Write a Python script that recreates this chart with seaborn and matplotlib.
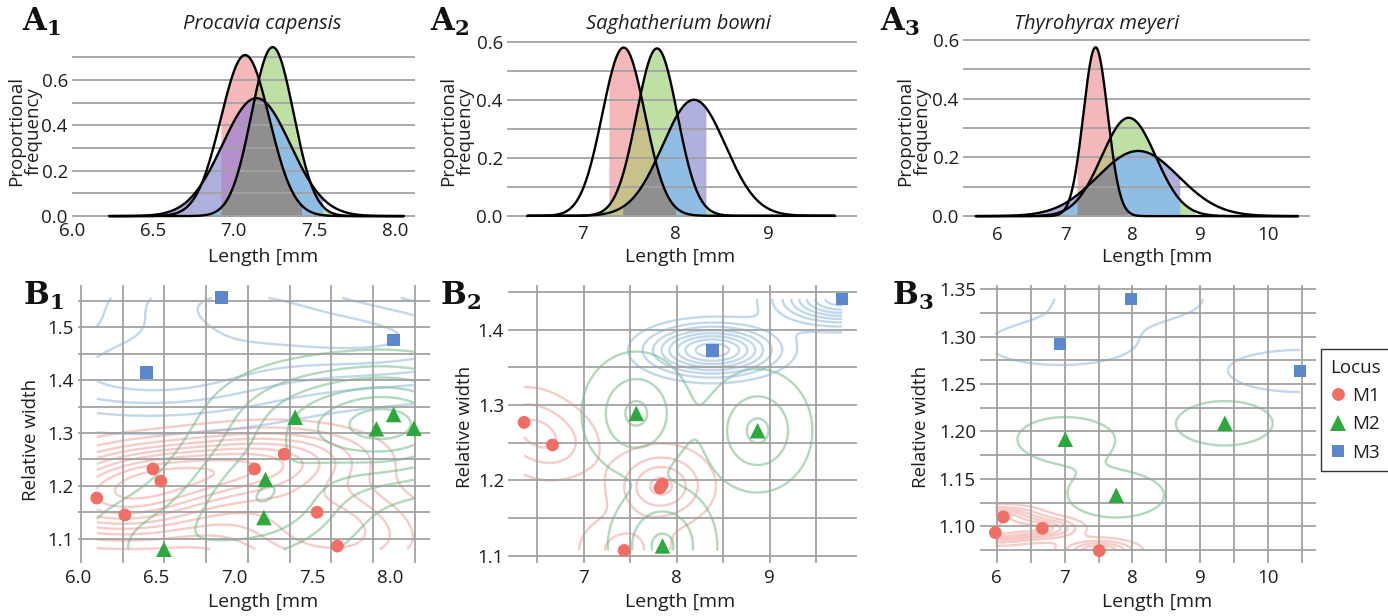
import numpy as np
import pandas as pd
import matplotlib
matplotlib.use("Agg")
import matplotlib.pyplot as plt
from matplotlib.ticker import FormatStrFormatter
import seaborn as sns

# ---------------------------------------------------------------- data
LOCI = ["M1", "M2", "M3"]

# Fitted normal curves of tooth length (mean, SD, peak height) per locus
a1_mean = [7.07, 7.24, 7.14]
a1_sd = [0.15, 0.13, 0.21]
a1_peak = [0.71, 0.745, 0.52]
a1_fill_lo = [6.92, 6.87, 6.55]
a1_fill_hi = [7.42, 7.60, 7.55]
a1_span = [6.23, 8.05]

a2_mean = [7.44, 7.80, 8.20]
a2_sd = [0.23, 0.22, 0.34]
a2_peak = [0.58, 0.577, 0.40]
a2_fill_lo = [7.28, 7.11, 7.43]
a2_fill_hi = [8.00, 8.45, 8.33]
a2_span = [6.40, 9.72]

a3_mean = [7.45, 7.94, 8.08]
a3_sd = [0.18, 0.40, 0.60]
a3_peak = [0.575, 0.335, 0.222]
a3_fill_lo = [7.17, 6.90, 6.60]
a3_fill_hi = [7.92, 8.92, 8.70]
a3_span = [5.68, 10.44]

# Specimens: length [mm] and relative width per locus
b1_m1_len = [6.12, 6.30, 6.48, 6.53, 7.13, 7.32, 7.53, 7.66]
b1_m1_wid = [1.177, 1.145, 1.232, 1.209, 1.232, 1.260, 1.150, 1.086]
b1_m2_len = [6.55, 7.20, 7.19, 7.39, 7.91, 8.02, 8.15]
b1_m2_wid = [1.080, 1.212, 1.140, 1.330, 1.308, 1.335, 1.309]
b1_m3_len = [6.92, 6.44, 8.02]
b1_m3_wid = [1.556, 1.414, 1.476]

b2_m1_len = [6.36, 6.665, 7.82, 7.845, 7.435]
b2_m1_wid = [1.277, 1.247, 1.190, 1.195, 1.107]
b2_m2_len = [7.565, 8.869, 7.847]
b2_m2_wid = [1.289, 1.266, 1.113]
b2_m3_len = [8.382, 9.776]
b2_m3_wid = [1.373, 1.441]

b3_m1_len = [5.98, 6.098, 6.672, 7.511]
b3_m1_wid = [1.0933, 1.1098, 1.0979, 1.0743]
b3_m2_len = [7.01, 7.761, 9.362]
b3_m2_wid = [1.1918, 1.1327, 1.2087]
b3_m3_len = [6.932, 7.978, 10.468]
b3_m3_wid = [1.2923, 1.3398, 1.2638]

species = ["Procavia capensis", "Saghatherium bowni", "Thyrohyrax meyeri"]

# ---------------------------------------------------------------- style
sns.set_theme(style="white")
plt.rcParams["font.family"] = ["Open Sans", "DejaVu Sans"]
plt.rcParams["mathtext.fontset"] = "dejavuserif"

TEXT = "#1e1e1e"
GRID = "#a2a2a2"
FILL_SINGLE = ["#f5b8ba", "#bfe0a4", "#aeb0de"]
FILL_PAIR = {(0, 1): "#c8c28a", (0, 2): "#b390cb", (1, 2): "#8fbde3"}
FILL_ALL = "#8f8f90"
POINT_COLORS = {"M1": "#ef6f66", "M2": "#2ca83c", "M3": "#5b87cc"}
POINT_MARKERS = {"M1": "o", "M2": "^", "M3": "s"}
POINT_SIZES = {"M1": 85, "M2": 125, "M3": 85}
CONTOUR_COLORS = ["#ee9a94", "#62b678", "#86b1d8"]

W, H = 1388, 616
fig = plt.figure(figsize=(W / 100, H / 100), dpi=100)


def px_axes(left, top, right, bottom):
    return fig.add_axes([left / W, 1 - bottom / H, (right - left) / W, (bottom - top) / H])


def px_text(x, y, s, **kw):
    fig.text(x / W, 1 - y / H, s, **kw)


def style_axes(ax, xmaj, ymaj, xgrid, ygrid, xfmt, yfmt, xpad=4, ypad=3):
    for sp in ax.spines.values():
        sp.set_visible(False)
    ax.set_xticks(xmaj)
    ax.set_yticks(ymaj)
    ax.set_xticks(xgrid, minor=True)
    ax.set_yticks(ygrid, minor=True)
    ax.xaxis.remove_overlapping_locs = False
    ax.yaxis.remove_overlapping_locs = False
    ax.xaxis.set_major_formatter(FormatStrFormatter(xfmt))
    ax.yaxis.set_major_formatter(FormatStrFormatter(yfmt))
    ax.grid(False, which="major")
    ax.grid(True, which="minor", color=GRID, lw=1.3)
    ax.tick_params(which="both", length=0, labelsize=13.5, colors=TEXT)
    ax.tick_params(axis="x", pad=xpad)
    ax.tick_params(axis="y", pad=ypad)
    ax.set_xlabel("")
    ax.set_ylabel("")


def draw_curves(ax, mean, sd, peak, lo, hi, span):
    x = np.linspace(span[0], span[1], 800)
    curves = [p * np.exp(-0.5 * ((x - m) / s) ** 2) for m, s, p in zip(mean, sd, peak)]
    # shaded ranges, one colour per locus, then blended overlaps
    for i in range(3):
        mask = (x >= lo[i]) & (x <= hi[i])
        ax.fill_between(x, 0, curves[i], where=mask, color=FILL_SINGLE[i], lw=0, zorder=1)
    for (i, j), col in FILL_PAIR.items():
        mask = (x >= max(lo[i], lo[j])) & (x <= min(hi[i], hi[j]))
        ax.fill_between(x, 0, np.minimum(curves[i], curves[j]), where=mask,
                        color=col, lw=0, zorder=1.1)
    mask = (x >= max(lo)) & (x <= min(hi))
    ax.fill_between(x, 0, np.min(curves, axis=0), where=mask, color=FILL_ALL, lw=0, zorder=1.2)
    for c in curves:
        sns.lineplot(x=x, y=c, ax=ax, color="black", lw=1.7, sort=False,
                     zorder=3, clip_on=False)


def kde_contours(ax, xs, ys, bounds, color, nlev, adjust):
    xs, ys = np.asarray(xs, float), np.asarray(ys, float)
    f = len(xs) ** (-1 / 6) * adjust
    bx, by = xs.std(ddof=1) * f, ys.std(ddof=1) * f
    gx = np.linspace(bounds[0], bounds[1], 260)
    gy = np.linspace(bounds[2], bounds[3], 260)
    X, Y = np.meshgrid(gx, gy)
    Z = np.zeros_like(X)
    for x0, y0 in zip(xs, ys):
        Z += np.exp(-0.5 * ((X - x0) / bx) ** 2 - 0.5 * ((Y - y0) / by) ** 2)
    Z /= Z.max()
    levels = np.linspace(0.12, 0.92, nlev) if nlev > 1 else [0.5]
    ax.contour(X, Y, Z, levels=levels, colors=[color], linewidths=1.7,
               alpha=0.5, zorder=0.3)


def draw_scatter(ax, lens, wids, nlevels, adjust, legend=False):
    frames = []
    for loc, l, w in zip(LOCI, lens, wids):
        frames.append(pd.DataFrame({"length": l, "width": w, "locus": loc}))
    df = pd.concat(frames, ignore_index=True)
    bounds = (df["length"].min(), df["length"].max(), df["width"].min(), df["width"].max())
    for i, (l, w) in enumerate(zip(lens, wids)):
        kde_contours(ax, l, w, bounds, CONTOUR_COLORS[i], nlevels[i], adjust[i])
    sns.scatterplot(data=df, x="length", y="width", hue="locus", style="locus",
                    size="locus", sizes=POINT_SIZES, size_order=LOCI,
                    hue_order=LOCI, style_order=LOCI, palette=POINT_COLORS,
                    markers=POINT_MARKERS, edgecolor="none", linewidth=0,
                    legend=legend, ax=ax, zorder=3)


# ---------------------------------------------------------------- top row
axA1 = px_axes(72, 46, 415, 217)
draw_curves(axA1, a1_mean, a1_sd, a1_peak, a1_fill_lo, a1_fill_hi, a1_span)
axA1.set_xlim(6.0, 8.12)
axA1.set_ylim(-0.004, 0.75)
style_axes(axA1, np.arange(6.0, 8.01, 0.5), np.arange(0, 0.61, 0.2), [],
           np.arange(0, 0.71, 0.1), "%.1f", "%.1f", xpad=3.5)
axA1.set_axisbelow(False)

axA2 = px_axes(507, 40, 857, 217)
draw_curves(axA2, a2_mean, a2_sd, a2_peak, a2_fill_lo, a2_fill_hi, a2_span)
axA2.set_xlim(6.18, 9.96)
axA2.set_ylim(-0.004, 0.606)
style_axes(axA2, [7, 8, 9], np.arange(0, 0.61, 0.2), [],
           np.arange(0, 0.61, 0.1), "%d", "%.1f", xpad=6)
axA2.set_axisbelow(False)

axA3 = px_axes(963, 38.5, 1310, 217.3)
draw_curves(axA3, a3_mean, a3_sd, a3_peak, a3_fill_lo, a3_fill_hi, a3_span)
axA3.set_xlim(5.49, 10.62)
axA3.set_ylim(-0.004, 0.605)
style_axes(axA3, [6, 7, 8, 9, 10], np.arange(0, 0.61, 0.2), [],
           np.arange(0, 0.61, 0.1), "%d", "%.1f", xpad=6)
axA3.set_axisbelow(False)

# ---------------------------------------------------------------- bottom row
axB1 = px_axes(78, 285, 430, 563.3)
draw_scatter(axB1, [b1_m1_len, b1_m2_len, b1_m3_len], [b1_m1_wid, b1_m2_wid, b1_m3_wid],
             [9, 6, 5], [1.0, 0.9, 1.0])
axB1.set_xlim(6.0, 8.253)
axB1.set_ylim(1.0534, 1.5803)
style_axes(axB1, np.arange(6.0, 8.01, 0.5), np.arange(1.1, 1.51, 0.1),
           np.linspace(6.019, 8.157, 9), np.arange(1.1, 1.551, 0.05), "%.1f", "%.1f")
axB1.set_axisbelow(True)

axB2 = px_axes(508.3, 285, 857.3, 563.3)
draw_scatter(axB2, [b2_m1_len, b2_m2_len, b2_m3_len], [b2_m1_wid, b2_m2_wid, b2_m3_wid],
             [4, 3, 8], [0.55, 0.5, 0.5])
axB2.set_xlim(6.19, 9.94)
axB2.set_ylim(1.0899, 1.4595)
style_axes(axB2, [7, 8, 9], np.arange(1.1, 1.41, 0.1),
           np.arange(6.5, 9.51, 0.5), np.arange(1.1, 1.451, 0.05), "%d", "%.1f")
axB2.set_axisbelow(True)

axB3 = px_axes(980, 285, 1315.7, 563.3)
draw_scatter(axB3, [b3_m1_len, b3_m2_len, b3_m3_len], [b3_m1_wid, b3_m2_wid, b3_m3_wid],
             [6, 1, 1], [0.6, 0.6, 0.6], legend=True)
axB3.set_xlim(5.754, 10.70)
axB3.set_ylim(1.0610, 1.3545)
style_axes(axB3, [6, 7, 8, 9, 10], np.arange(1.10, 1.351, 0.05),
           np.arange(6.0, 10.51, 0.5), np.arange(1.075, 1.351, 0.025), "%d", "%.2f")
axB3.set_axisbelow(True)

handles, labels = axB3.get_legend_handles_labels()
if axB3.get_legend() is not None:
    axB3.get_legend().remove()
leg = fig.legend(handles, labels, title="Locus", loc="upper left",
                 bbox_to_anchor=(1320.5 / W, 1 - 349.3 / H), frameon=True,
                 fancybox=False, edgecolor="black", fontsize=13.5, title_fontsize=13.5,
                 handlelength=0.9, handletextpad=0.3, borderpad=0.5,
                 labelspacing=0.55, borderaxespad=0, alignment="left")
leg.get_frame().set_linewidth(1.0)
for t in leg.get_texts():
    t.set_color(TEXT)
leg.get_title().set_color(TEXT)

# ---------------------------------------------------------------- text
for x, name in zip([262, 678, 1097], species):
    px_text(x, 24, name, ha="center", va="center", fontsize=14.5, style="italic", color=TEXT)

for x in [263, 680, 1157]:
    px_text(x, 256.7, "Length [mm", ha="center", va="center", fontsize=14, color=TEXT)
    px_text(x, 601.7, "Length [mm", ha="center", va="center", fontsize=14, color=TEXT)

for x in [25, 457, 914]:
    px_text(x, 131, "Proportional\nfrequency", ha="center", va="center", rotation=90,
            fontsize=13.5, linespacing=0.95, color=TEXT)
for x, y in [(30.7, 440), (465, 427), (921, 427)]:
    px_text(x, y, "Relative width", ha="center", va="center", rotation=90,
            fontsize=13.5, color=TEXT)

for x, y, s in [(22, 31, r"$\mathbf{A}_{\mathbf{1}}$"), (430, 31, r"$\mathbf{A}_{\mathbf{2}}$"),
                (880, 31, r"$\mathbf{A}_{\mathbf{3}}$"), (23, 305, r"$\mathbf{B}_{\mathbf{1}}$"),
                (440, 305, r"$\mathbf{B}_{\mathbf{2}}$"), (892, 305, r"$\mathbf{B}_{\mathbf{3}}$")]:
    px_text(x, y, s, ha="left", va="baseline", fontsize=22, color="#111111")

fig.savefig("out.png", dpi=100)
